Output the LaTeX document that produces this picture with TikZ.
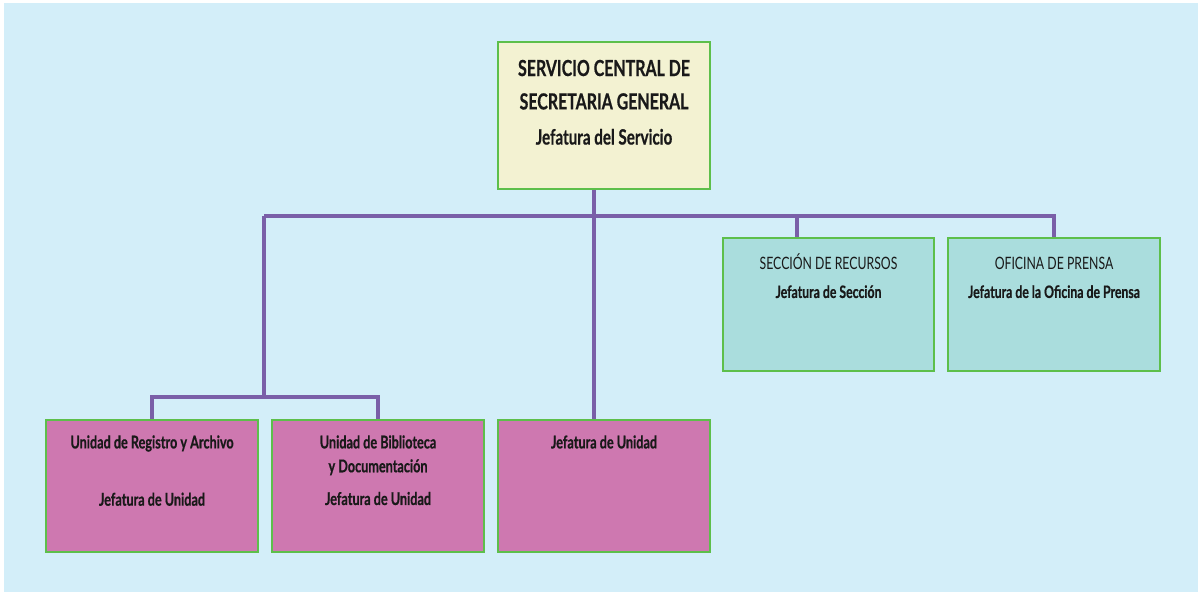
\documentclass[tikz,border=0pt]{standalone}
\usepackage{fontspec}
\setmainfont{Lato}[FakeStretch=0.72,BoldFeatures={FakeBold=0.6}]
\definecolor{fondo}{HTML}{D3EEF9}
\definecolor{borde}{HTML}{5DBF4B}
\definecolor{linea}{HTML}{7A5FA8}
\definecolor{crema}{HTML}{F3F2D2}
\definecolor{verdeagua}{HTML}{AADDDD}
\definecolor{rosa}{HTML}{CE78B0}
\tikzset{
	caja/.style={draw=borde,line width=1.2pt,anchor=north west,inner sep=0pt,minimum width=4.24cm},
	texto/.style={anchor=north,inner sep=0pt,align=center,text=black!90},
	rama/.style={draw=linea,line width=2.3pt},
}
\begin{document}
\begin{tikzpicture}[x=0.02cm,y=-0.02cm]
	\useasboundingbox (0,0) rectangle (1198,592);
	\fill[fondo] (4,3) rectangle (1198,592);
	% cajas
	\node[caja,fill=crema,minimum height=2.94cm] (servicio) at (497,41) {};
	\node[caja,fill=verdeagua,minimum height=2.66cm,minimum width=4.22cm] (recursos) at (722,237) {};
	\node[caja,fill=verdeagua,minimum height=2.66cm] (oficina) at (947,237) {};
	\node[caja,fill=rosa,minimum height=2.64cm] (registro) at (45,419) {};
	\node[caja,fill=rosa,minimum height=2.64cm] (biblioteca) at (271,419) {};
	\node[caja,fill=rosa,minimum height=2.64cm] (jefatura) at (497,419) {};
	% textos
	\node[texto,font=\fontsize{12.6}{19}\selectfont\bfseries] (servicio-t) at ([yshift=-0.37cm]servicio.north)
		{SERVICIO CENTRAL DE\\SECRETARIA GENERAL\\[1pt]{\fontsize{12}{14}\selectfont Jefatura del Servicio}};
	\node[texto,font=\fontsize{9.7}{16.4}\selectfont] (recursos-t) at ([yshift=-0.32cm]recursos.north)
		{SECCIÓN DE RECURSOS\\\textbf{Jefatura de Sección}};
	\node[texto,font=\fontsize{9.7}{16.4}\selectfont] (oficina-t) at ([yshift=-0.32cm]oficina.north)
		{\vphantom{Ó}OFICINA DE PRENSA\\\textbf{Jefatura de la Oficina de Prensa}};
	\node[texto,font=\fontsize{10}{13.6}\selectfont\bfseries] (registro-t) at ([yshift=-0.32cm]registro.north)
		{Unidad de Registro y Archivo\\[19pt]Jefatura de Unidad};
	\node[texto,font=\fontsize{10}{13.6}\selectfont\bfseries] (biblioteca-t) at ([yshift=-0.32cm]biblioteca.north)
		{Unidad de Biblioteca\\y Documentación\\[5pt]Jefatura de Unidad};
	\node[texto,font=\fontsize{10}{13.6}\selectfont\bfseries] (jefatura-t) at ([yshift=-0.32cm]jefatura.north)
		{Jefatura de Unidad};
	% lineas
	\coordinate (izq) at (264,216);
	\coordinate (izqbaja) at (264,397);
	\draw[rama] ([xshift=-0.2cm]servicio.south) -- ([xshift=-0.2cm]jefatura.north);
	\draw[rama] (izq) -- (oficina.north |- izq) -- (oficina.north);
	\draw[rama] ([xshift=-0.63cm]recursos.north) -- ([xshift=-0.63cm]recursos.north |- izq);
	\draw[rama] (izq) -- (izqbaja);
	\draw[rama] (registro.north) |- (izqbaja) -| (biblioteca.north);
\end{tikzpicture}
\end{document}
